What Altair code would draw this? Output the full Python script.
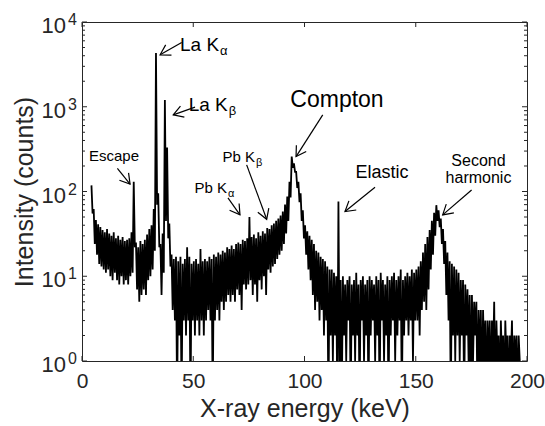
import math
import altair as alt
import pandas as pd

# ---------------- data ----------------
START_KEV = 4  # first channel group (keV)
# upper / lower envelope of the noisy spectrum, one pair per keV (counts)
hi = [118, 62, 46, 41, 38, 35, 33, 36, 32, 30, 33, 28, 30, 27, 29, 26, 27, 28, 33,
      130, 25, 22, 26, 24, 27, 31, 36, 40, 62, 4300, 95, 24, 32, 1200, 330, 42,
      18, 16, 17, 15, 17, 14, 16, 22, 17, 14, 15, 16, 14, 21, 15, 16, 15, 17, 16, 18,
      17, 19, 18, 20, 19, 22, 21, 23, 21, 24, 25, 24, 27, 26, 28,
      50, 29, 31, 28, 33, 30, 34, 32, 37, 36, 40, 42, 45, 48, 52, 58, 70, 87, 130, 258,
      215, 170, 130, 95, 60,
      40, 34, 30, 27, 24, 20, 19, 17, 16, 15, 13, 12, 12, 11, 10,
      76,
      9, 10, 8, 9, 10, 8, 9, 11, 8, 9, 10, 8, 9, 10, 9, 8, 10, 9, 11, 9, 8, 10, 9, 10,
      11, 9, 10, 12, 9, 10, 11, 10, 12, 11,
      12, 13, 15, 19, 24, 29, 35, 45, 56, 69, 60, 48, 36, 26, 19, 15, 14, 13, 12, 11, 9,
      9, 8, 7, 6, 6, 5, 5, 4, 4, 4, 3, 3, 3, 3, 5, 3, 2, 3, 2, 3, 2, 2, 3, 2, 2, 2]
lo = [55, 24, 18, 14, 13, 12, 11, 12, 10, 9, 11, 9, 8, 10, 8, 9, 8, 10, 11,
      22, 7, 5, 6, 7, 6, 9, 10, 12, 20, 70, 22, 6, 11, 45, 28, 13,
      4, 3, 0, 2, 0, 3, 2, 3, 0, 3, 2, 3, 2, 3, 2, 3, 4, 3, 0, 3,
      4, 3, 5, 4, 5, 6, 5, 6, 5, 7, 6, 4, 8, 7, 8,
      9, 6, 8, 5, 9, 7, 10, 6, 12, 11, 13, 14, 16, 18, 20, 24, 32, 45, 85, 190,
      170, 110, 75, 45, 28,
      18, 12, 9, 6, 4, 5, 3, 4, 2, 3, 0, 2, 1, 2, 0,
      1,
      0, 2, 1, 3, 0, 2, 1, 2, 0, 3, 1, 2, 0, 2, 3, 1, 2, 0, 3, 1, 2, 0, 2, 3,
      1, 2, 3, 0, 2, 3, 2, 3, 1, 3,
      3, 2, 4, 5, 4, 7, 12, 18, 30, 45, 38, 24, 14, 6, 3, 0, 2, 1, 2, 1, 2,
      0, 2, 1, 0, 1, 2, 0, 1, 0, 1, 0, 1, 0, 1, 0, 1, 0, 1, 0, 1, 0, 1, 0, 1, 0, 1]

X_TICKS = [0, 50, 100, 150, 200]
Y_MAJOR = [1, 10, 100, 1000, 10000]
Y_EXP = ["0", "1", "2", "3", "4"]

# annotations (data coordinates: keV, counts)
sub_main = ["La K", "La K", "Pb K", "Pb K"]
sub_char = ["α", "β", "α", "β"]
sub_e = [61.6, 65.5, 65.2, 77.8]
sub_c = [5380, 1040, 110, 253]
sub_fs = [19, 19, 15, 15]
sub_fs_small = [13, 13, 11, 11]

lab_text = ["Escape", "Compton", "Elastic", "Second", "harmonic"]
lab_e = [14.4, 114.6, 134.8, 178.2, 178.2]
lab_c = [263, 1206, 166, 230, 145]
lab_fs = [15, 23, 18, 16, 16]

arr_tail_e = [44.8, 50.8, 15.9, 65.6, 74.0, 108.2, 131.7, 175.1]
arr_tail_c = [5730, 990, 188, 84, 206, 802, 112, 104]
arr_tip_e = [35.1, 41.0, 21.6, 71.0, 83.0, 96.2, 118.2, 162.1]
arr_tip_c = [4100, 802, 122, 53, 47, 258, 58, 53]

# ---------------- build tables ----------------
W, H = 445, 339
FONT = "Liberation Sans"
INK = "#262626"

rows = []
for i, (h, l) in enumerate(zip(hi, lo)):
    x0 = START_KEV + i
    rows.append({"e": x0 + 0.25, "c": h if h > 0 else 0.3})
    rows.append({"e": x0 + 0.75, "c": l if l > 0 else 0.3})
spec_df = pd.DataFrame(rows)

x_scale = alt.Scale(domain=[0, 200], nice=False, zero=False)
y_scale = alt.Scale(type="log", domain=[1, 10000], nice=False)

x_axis = alt.Axis(values=X_TICKS, ticks=False, tickSize=0, domain=False, grid=False,
                  labelFontSize=21, labelFont=FONT, labelColor=INK, labelPadding=9,
                  labelFlush=False, labelOverlap=False,
                  title="X-ray energy (keV)", titleFontSize=25, titleFont=FONT,
                  titleColor=INK, titleFontWeight="normal",
                  titleY=55, titleBaseline="alphabetic")
y_axis = alt.Axis(labels=False, ticks=False, tickSize=0, domain=False, grid=False,
                  title="Intensity (counts)", titleFontSize=25, titleFont=FONT,
                  titleColor=INK, titleFontWeight="normal",
                  titleX=-50, titleY=H / 2, titleAngle=270,
                  titleBaseline="alphabetic", titleAlign="center")


def X(field):
    return alt.X(field, scale=x_scale, axis=x_axis)


def Y(field):
    return alt.Y(field, scale=y_scale, axis=y_axis)


def px(e):
    return e / 200 * W


def py(c):
    return H * (1 - math.log10(c) / 4)


arr_df = pd.DataFrame({"e": arr_tail_e, "c": arr_tail_c, "e2": arr_tip_e, "c2": arr_tip_c})
arr_df["ang"] = [
    (math.degrees(math.atan2(py(c2) - py(c1), px(e2) - px(e1))) + 360) % 360
    for e1, c1, e2, c2 in zip(arr_tail_e, arr_tail_c, arr_tip_e, arr_tip_c)
]

minor = [m * 10 ** k for k in range(4) for m in range(2, 10)]

line = alt.Chart(spec_df).mark_line(color="black", strokeWidth=1.8, clip=True,
                                    strokeJoin="miter").encode(
    x=X("e:Q"), y=Y("c:Q"), order=alt.Order("e:Q"))

xt_df = pd.DataFrame({"e": X_TICKS})
xb = alt.Chart(xt_df).mark_rule(color=INK, strokeWidth=1).encode(
    x=X("e:Q"), y=alt.value(H), y2=alt.value(H - 5))
xtop = alt.Chart(xt_df).mark_rule(color=INK, strokeWidth=1).encode(
    x=X("e:Q"), y=alt.value(0), y2=alt.value(5))

ymaj_df = pd.DataFrame({"c": Y_MAJOR, "exp": Y_EXP})
ymin_df = pd.DataFrame({"c": minor})
yl = alt.Chart(ymaj_df).mark_rule(color=INK, strokeWidth=1).encode(
    y=Y("c:Q"), x=alt.value(0), x2=alt.value(5))
yr = alt.Chart(ymaj_df).mark_rule(color=INK, strokeWidth=1).encode(
    y=Y("c:Q"), x=alt.value(W), x2=alt.value(W - 5))
yml = alt.Chart(ymin_df).mark_rule(color=INK, strokeWidth=1).encode(
    y=Y("c:Q"), x=alt.value(0), x2=alt.value(3))
ymr = alt.Chart(ymin_df).mark_rule(color=INK, strokeWidth=1).encode(
    y=Y("c:Q"), x=alt.value(W), x2=alt.value(W - 3))

ylab10 = alt.Chart(ymaj_df).mark_text(align="right", baseline="alphabetic", dx=-16, dy=11,
                                      fontSize=22, font=FONT, color=INK).encode(
    y=Y("c:Q"), x=alt.value(0), text=alt.value("10"))
ylabexp = alt.Chart(ymaj_df).mark_text(align="left", baseline="alphabetic", dx=-14, dy=3,
                                       fontSize=16, font=FONT, color=INK).encode(
    y=Y("c:Q"), x=alt.value(0), text="exp:N")

arrows = alt.Chart(arr_df).mark_rule(color="black", strokeWidth=1.2).encode(
    x=X("e:Q"), y=Y("c:Q"), x2="e2:Q", y2="c2:Q")
heads = alt.Chart(arr_df).mark_point(shape="M-1,-0.6L0,0L-1,0.6", filled=False, size=380,
                                     strokeWidth=1.2, color="black", opacity=1).encode(
    x=X("e2:Q"), y=Y("c2:Q"), angle=alt.Angle("ang:Q", scale=None))

sub_df = pd.DataFrame({"e": sub_e, "c": sub_c, "t": sub_main, "s": sub_char,
                       "fs": sub_fs, "fs2": sub_fs_small})
main_k = alt.Chart(sub_df).mark_text(align="right", baseline="middle", font=FONT, color="black").encode(
    x=X("e:Q"), y=Y("c:Q"), text="t:N", size=alt.Size("fs:Q", scale=None))
sub_k = alt.Chart(sub_df).mark_text(align="left", baseline="middle", dx=1, dy=6, font=FONT,
                                    color="black").encode(
    x=X("e:Q"), y=Y("c:Q"), text="s:N", size=alt.Size("fs2:Q", scale=None))

lab_df = pd.DataFrame({"e": lab_e, "c": lab_c, "t": lab_text, "fs": lab_fs})
labels = alt.Chart(lab_df).mark_text(align="center", baseline="middle", font=FONT, color="black").encode(
    x=X("e:Q"), y=Y("c:Q"), text="t:N", size=alt.Size("fs:Q", scale=None))

chart = alt.layer(line, xb, xtop, yl, yr, yml, ymr, ylab10, ylabexp,
                  arrows, heads, main_k, sub_k, labels).properties(
    width=W, height=H,
    padding={"left": 82, "top": 22, "right": 18, "bottom": 65},
    autosize="none",
    background="white",
).configure_view(stroke=INK, strokeWidth=1)

chart.save("out.html", embed_options={"renderer": "svg", "actions": False})
